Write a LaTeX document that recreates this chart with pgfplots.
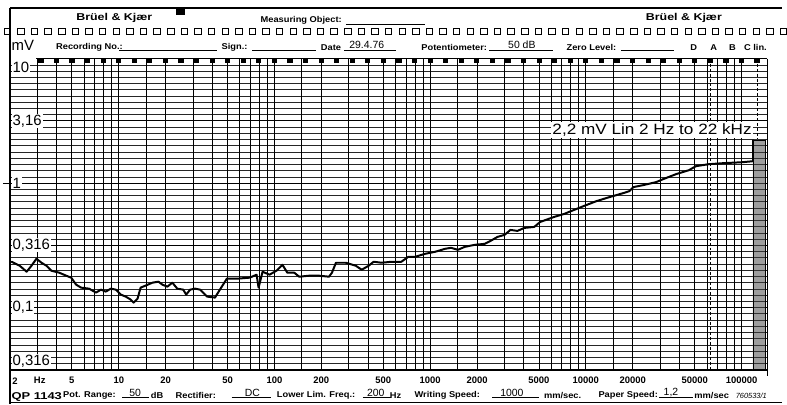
\documentclass[border=0pt]{standalone}
\usepackage{graphicx}
\usepackage{pgfplots}
\pgfplotsset{compat=1.18}
\usepackage{fontspec}
\setmainfont{Liberation Sans}

\begin{document}
\begin{tikzpicture}
\begin{scope}[x=1pt,y=-1pt]
\useasboundingbox (0,0) rectangle (787,406);
\fill[white] (0,0) rectangle (787,406);

% ruled field: 2 Hz at x=10, 156.625pt per decade; 10 mV at y=59, 6.26pt per dB
\foreach \k in {1,...,49} {
  \pgfmathtruncatemacro\lvlrest{mod(\k,10)}
  \ifnum\lvlrest=0
    \draw[black, line width=1.1pt] (10,59+6.26*\k) -- (772,59+6.26*\k);
  \else
    \draw[black!85, line width=0.65pt] (10,59+6.26*\k) -- (772,59+6.26*\k);
  \fi
}
\foreach \d in {0,1,2,3,4} {
  \foreach \m in {1.5,2,3,4,5,6,7,8,9} {
    \pgfmathsetmacro\rulex{10+156.625*(\d+log10(\m)-0.30103)}
    \pgfmathtruncatemacro\ruleok{\rulex>20 ? 1 : 0}
    \ifnum\ruleok=1
      \draw[black, line width=0.9pt] (\rulex,59) -- (\rulex,372);
    \fi
  }
}
\foreach \d in {1,2,3,4,5} {
  \pgfmathsetmacro\rulex{10+156.625*(\d-0.30103)}
  \draw[black, line width=1.1pt] (\rulex,59) -- (\rulex,372);
}
% filter markers (63.1 kHz and 125.9 kHz)
\draw[black, line width=0.6pt, dash pattern=on 3pt off 2pt] (714.6,59) -- (714.6,372);
\draw[black, line width=0.6pt, dash pattern=on 3pt off 2pt] (761.6,59) -- (761.6,372);
% borders of the ruled field
\draw[black, line width=1.6pt] (36.6,59) -- (772,59);
\draw[black, line width=1.6pt] (10,372) -- (772,372);
\draw[black, line width=1.6pt] (772,59) -- (772,378);
% timing marks every tenth of a decade
\foreach \k in {5,...,51} {
  \pgfmathsetmacro\rulex{10+156.625*(\k/10-0.30103)}
  \fill[black] (\rulex-2.6,59) rectangle (\rulex+2.6,63.5);
}
\end{scope}
\begin{axis}[
  at={(10pt,-59pt)}, anchor=north west,
  scale only axis, width=762pt, height=313pt,
  xmode=log, ymode=log,
  xmin=2, xmax=146600, ymin=0.0316228, ymax=10,
  hide axis, clip=false]
% linear reading column
\addplot[draw=black, line width=0.9pt, fill=black!38] coordinates {(118500,0.0316228) (118500,2.2) (142300,2.2) (142300,0.0316228) (118500,0.0316228)};
% recorded level (mV) versus frequency (Hz)
\addplot[black, line width=2pt, line join=round, line cap=round] coordinates {
(2.05,0.2333) (2.31,0.2168) (2.56,0.1941) (2.75,0.2168) (2.96,0.2466)
(3.19,0.2291) (3.43,0.2168) (3.69,0.1977) (4.15,0.1905) (4.60,0.1803)
(4.95,0.1738) (5.32,0.1528) (5.73,0.1445) (6.44,0.1419) (7.14,0.1318)
(7.68,0.1393) (8.26,0.1343) (8.89,0.1419) (9.57,0.1393) (10.3,0.1271)
(11.08,0.1225) (11.92,0.1159) (12.46,0.1096) (13.21,0.1180) (13.81,0.1445)
(14.86,0.1500) (16.47,0.1585) (17.98,0.1614) (19.07,0.1528) (20.52,0.1472)
(22.08,0.1585) (23.76,0.1419) (25.94,0.1393) (27.11,0.1271) (28.75,0.1393)
(30.93,0.1419) (33.29,0.1393) (36.89,0.1225) (41.48,0.1202) (44.63,0.1393)
(49.46,0.1706) (57.28,0.1706) (69.30,0.1738) (76.80,0.1837) (79.09,0.1445)
(81.44,0.1675) (83.86,0.1941) (92.93,0.1837) (103.0,0.1977) (112.5,0.2208)
(121.0,0.1905) (134.1,0.1905) (144.3,0.1770) (167.1,0.1803) (193.5,0.1803)
(224.0,0.1770) (234.1,0.1905) (248.3,0.2291) (287.5,0.2291) (332.9,0.2168)
(363.5,0.2014) (402.9,0.2168) (433.5,0.2333) (487.4,0.2291) (564.3,0.2333)
(653.4,0.2333) (724.3,0.2559) (802.7,0.2559) (929.3,0.2704) (1076,0.2805)
(1246,0.2965) (1361,0.3020) (1508,0.2911) (1671,0.3076) (1935,0.3192)
(2240,0.3251) (2446,0.3436) (2711,0.3698) (3004,0.3837) (3281,0.4207)
(3635,0.4130) (4029,0.4365) (4665,0.4446) (5093,0.4875) (6256,0.5346)
(7243,0.5649) (8386,0.6081) (9712,0.6546) (11750,0.7178) (14220,0.7727)
(17460,0.8318) (19070,0.8630) (20220,0.9290) (23410,0.9638) (28330,1.019)
(31390,1.076) (37980,1.180) (45960,1.270) (50930,1.368) (61630,1.419)
(75690,1.445) (101500,1.472) (118500,1.500) (118500,2.2)
};
\end{axis}
\begin{scope}[x=1pt,y=-1pt]
% pen strokes across the reading column
\foreach \k in {13,...,49} {
  \draw[black!80, line width=0.7pt] (758.5,59+6.26*\k) -- (769.5,59+6.26*\k);
}
% frequency scale
\foreach \fx/\ft in {15/2,40/Hz,72.3/5,119.5/10,166.6/20,228.9/50,276.1/100,323.3/200,385.6/500,432.8/1000,479.9/2000,542.2/5000,589.4/10000,636.5/20000,698.9/50000,746/100000} {
  \node[inner sep=0pt] at (\fx,383) {\fontsize{9.5}{10}\selectfont\bfseries \ft};
}
% paper frame and header
\draw[black, line width=1.6pt] (10,8) -- (787,8);
\draw[black, line width=1.3pt] (10,8) -- (10,406);
\draw[black, line width=1.6pt] (10,405) -- (787,405);
\fill[black] (177,8) rectangle (186,15);
\foreach \i in {0,...,57} {
  \draw[black, line width=0.7pt] ({4+13.7*\i},28.5) rectangle ({10.5+13.7*\i},34.5);
}
\node at (115,18) {\scalebox{1.25}[1]{\fontsize{10}{11}\selectfont\bfseries Brüel \& Kjær}};
\node at (688,18) {\scalebox{1.25}[1]{\fontsize{10}{11}\selectfont\bfseries Brüel \& Kjær}};
\node at (303,20) {\scalebox{1.1}[1]{\fontsize{8.5}{9}\selectfont\bfseries Measuring Object:}};
\draw[black, line width=0.6pt] (348,24) -- (428,24);
\node[anchor=west, inner sep=0pt] at (11.5,46) {\fontsize{15}{16}\selectfont mV};
\foreach \cx/\ct in {90/{Recording No.:},236/{Sign.:},333/{Date},457/{Potentiometer:},595/{Zero Level:},698/D,718/A,737/B,760/{C lin.}} {
  \node at (\cx,48) {\scalebox{1.1}[1]{\fontsize{8.5}{9}\selectfont\bfseries \ct}};
}
\draw[black, line width=0.6pt] (120,51) -- (218,51);
\draw[black, line width=0.6pt] (254,51) -- (318,51);
\node at (369,45) {\fontsize{10.5}{11}\selectfont 29.4.76};
\draw[black, line width=0.6pt] (346,51) -- (398,51);
\draw[black, line width=0.6pt] (492,51) -- (556,51);
\node at (525,45) {\fontsize{10.5}{11}\selectfont 50 dB};
\draw[black, line width=0.6pt] (625,51) -- (678,51);
% level scale
\node[fill=white, inner sep=1pt, anchor=north west] at (11.5,61) {\fontsize{15}{16}\selectfont 10};
\node[fill=white, inner sep=1pt, anchor=west] at (11.5,121.6) {\fontsize{15}{16}\selectfont 3,16};
\node[fill=white, inner sep=1pt, anchor=west] at (11.5,184.2) {\fontsize{15}{16}\selectfont 1};
\draw[black, line width=1pt] (3,184.2) -- (10,184.2);
\node[fill=white, inner sep=1pt, anchor=west] at (11.5,246.8) {\fontsize{15}{16}\selectfont 0,316};
\node[fill=white, inner sep=1pt, anchor=west] at (11.5,309.4) {\fontsize{15}{16}\selectfont 0,1};
\node[fill=white, inner sep=1pt, anchor=south west] at (11.5,371) {\fontsize{15}{16}\selectfont 0,316};
% reading
\node[fill=white, inner sep=1.5pt] at (656,131) {\scalebox{1.15}[1]{\fontsize{15}{16}\selectfont 2,2 mV Lin 2 Hz to 22 kHz}};
% footer
\node at (37,399) {\scalebox{1.3}[1]{\fontsize{10}{11}\selectfont\bfseries QP 1143}};
\foreach \cx/\ct in {90/{Pot. Range:},158/dB,197/{Rectifier:},318/{Lower Lim. Freq.:},398/Hz,450/{Writing Speed:},566/{mm/sec.},632/{Paper Speed:},716/{mm/sec}} {
  \node at (\cx,398) {\scalebox{1.1}[1]{\fontsize{8.5}{9}\selectfont\bfseries \ct}};
}
\foreach \cx/\ct in {136/50,254/DC,378/200,515/1000,675/{1,2}} {
  \node at (\cx,395) {\fontsize{10.5}{11}\selectfont \ct};
}
\draw[black, line width=0.6pt] (123,400) -- (150,400);
\draw[black, line width=0.6pt] (233,400) -- (273,400);
\draw[black, line width=0.6pt] (365,400) -- (393,400);
\draw[black, line width=0.6pt] (495,400) -- (542,400);
\draw[black, line width=0.6pt] (663,400) -- (697,400);
\node[anchor=west, inner sep=0pt] at (740,398) {\fontsize{7.5}{8}\selectfont\itshape 760533/1};
\end{scope}
\end{tikzpicture}
\end{document}
